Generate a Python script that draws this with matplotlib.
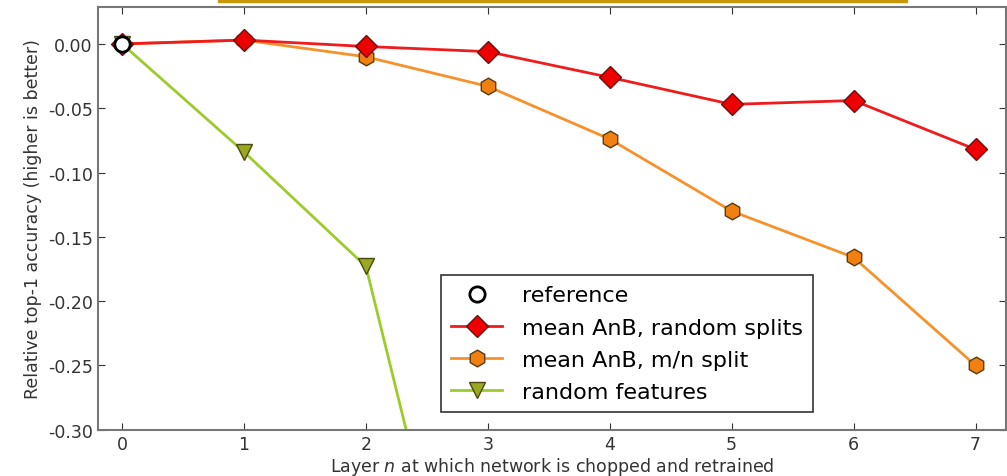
import matplotlib
matplotlib.use("Agg")
import matplotlib.pyplot as plt
from matplotlib.patches import Rectangle

# data
layers = [0, 1, 2, 3, 4, 5, 6, 7]
anb_random = [0.0, 0.003, -0.002, -0.006, -0.026, -0.047, -0.044, -0.082]
anb_mn = [0.0, 0.003, -0.010, -0.033, -0.074, -0.130, -0.166, -0.250]
rand_layers = [0, 1, 2, 3]
rand_feat = [0.0, -0.084, -0.173, -0.558]
ref_x = [0]
ref_y = [0.0]

yticks = [0.00, -0.05, -0.10, -0.15, -0.20, -0.25, -0.30]

fig = plt.figure(figsize=(10.07, 4.77), dpi=100)
ax = fig.add_axes([0.097, 0.097, 0.902, 0.887])

ax.plot(ref_x, ref_y, "o", color="white", mec="black", mew=2, ms=11,
        label="reference", zorder=5)
ax.plot(layers, anb_random, "-D", color="#ee1c1c", mfc="#ee0000", mec="#6a1010",
        lw=2, ms=11, label="mean AnB, random splits", zorder=4)
ax.plot(layers, anb_mn, "-h", color="#f5922b", mfc="#f08010", mec="#5a3a10",
        lw=2, ms=12, label="mean AnB, m/n split", zorder=3)
ax.plot(rand_layers, rand_feat, "-v", color="#9ccc2c", mfc="#9aa820", mec="#4a4a10",
        lw=2, ms=12, label="random features", zorder=2)

ax.set_xlim(-0.2, 7.25)
ax.set_ylim(-0.30, 0.029)
ax.set_xticks(layers)
ax.set_yticks(yticks)
ax.set_yticklabels(["%.2f" % v if v != 0 else "0.00" for v in yticks])
ax.tick_params(direction="in", top=True, right=True, length=5, labelsize=12.5,
               colors="#333333")
for s in ax.spines.values():
    s.set_color("#777777")
    s.set_linewidth(1.5)

ax.set_xlabel("Layer $n$ at which network is chopped and retrained", fontsize=12.5,
              color="#333333", labelpad=2)
ax.set_ylabel("Relative top-1 accuracy (higher is better)", fontsize=12.5,
              color="#333333", labelpad=4)

leg = ax.legend(loc="lower left", bbox_to_anchor=(0.378, 0.042), fontsize=16,
                fancybox=False, framealpha=1, edgecolor="#333333",
                handlelength=2.3, handletextpad=0.9, borderpad=0.45,
                labelspacing=0.55, borderaxespad=0)
leg.get_frame().set_linewidth(1.2)

# gold strip at the top edge of the image
fig.patches.append(Rectangle((0.216, 0.994), 0.685, 0.006, transform=fig.transFigure,
                             color="#c8980a", zorder=10))

fig.savefig("out.png", dpi=100)
